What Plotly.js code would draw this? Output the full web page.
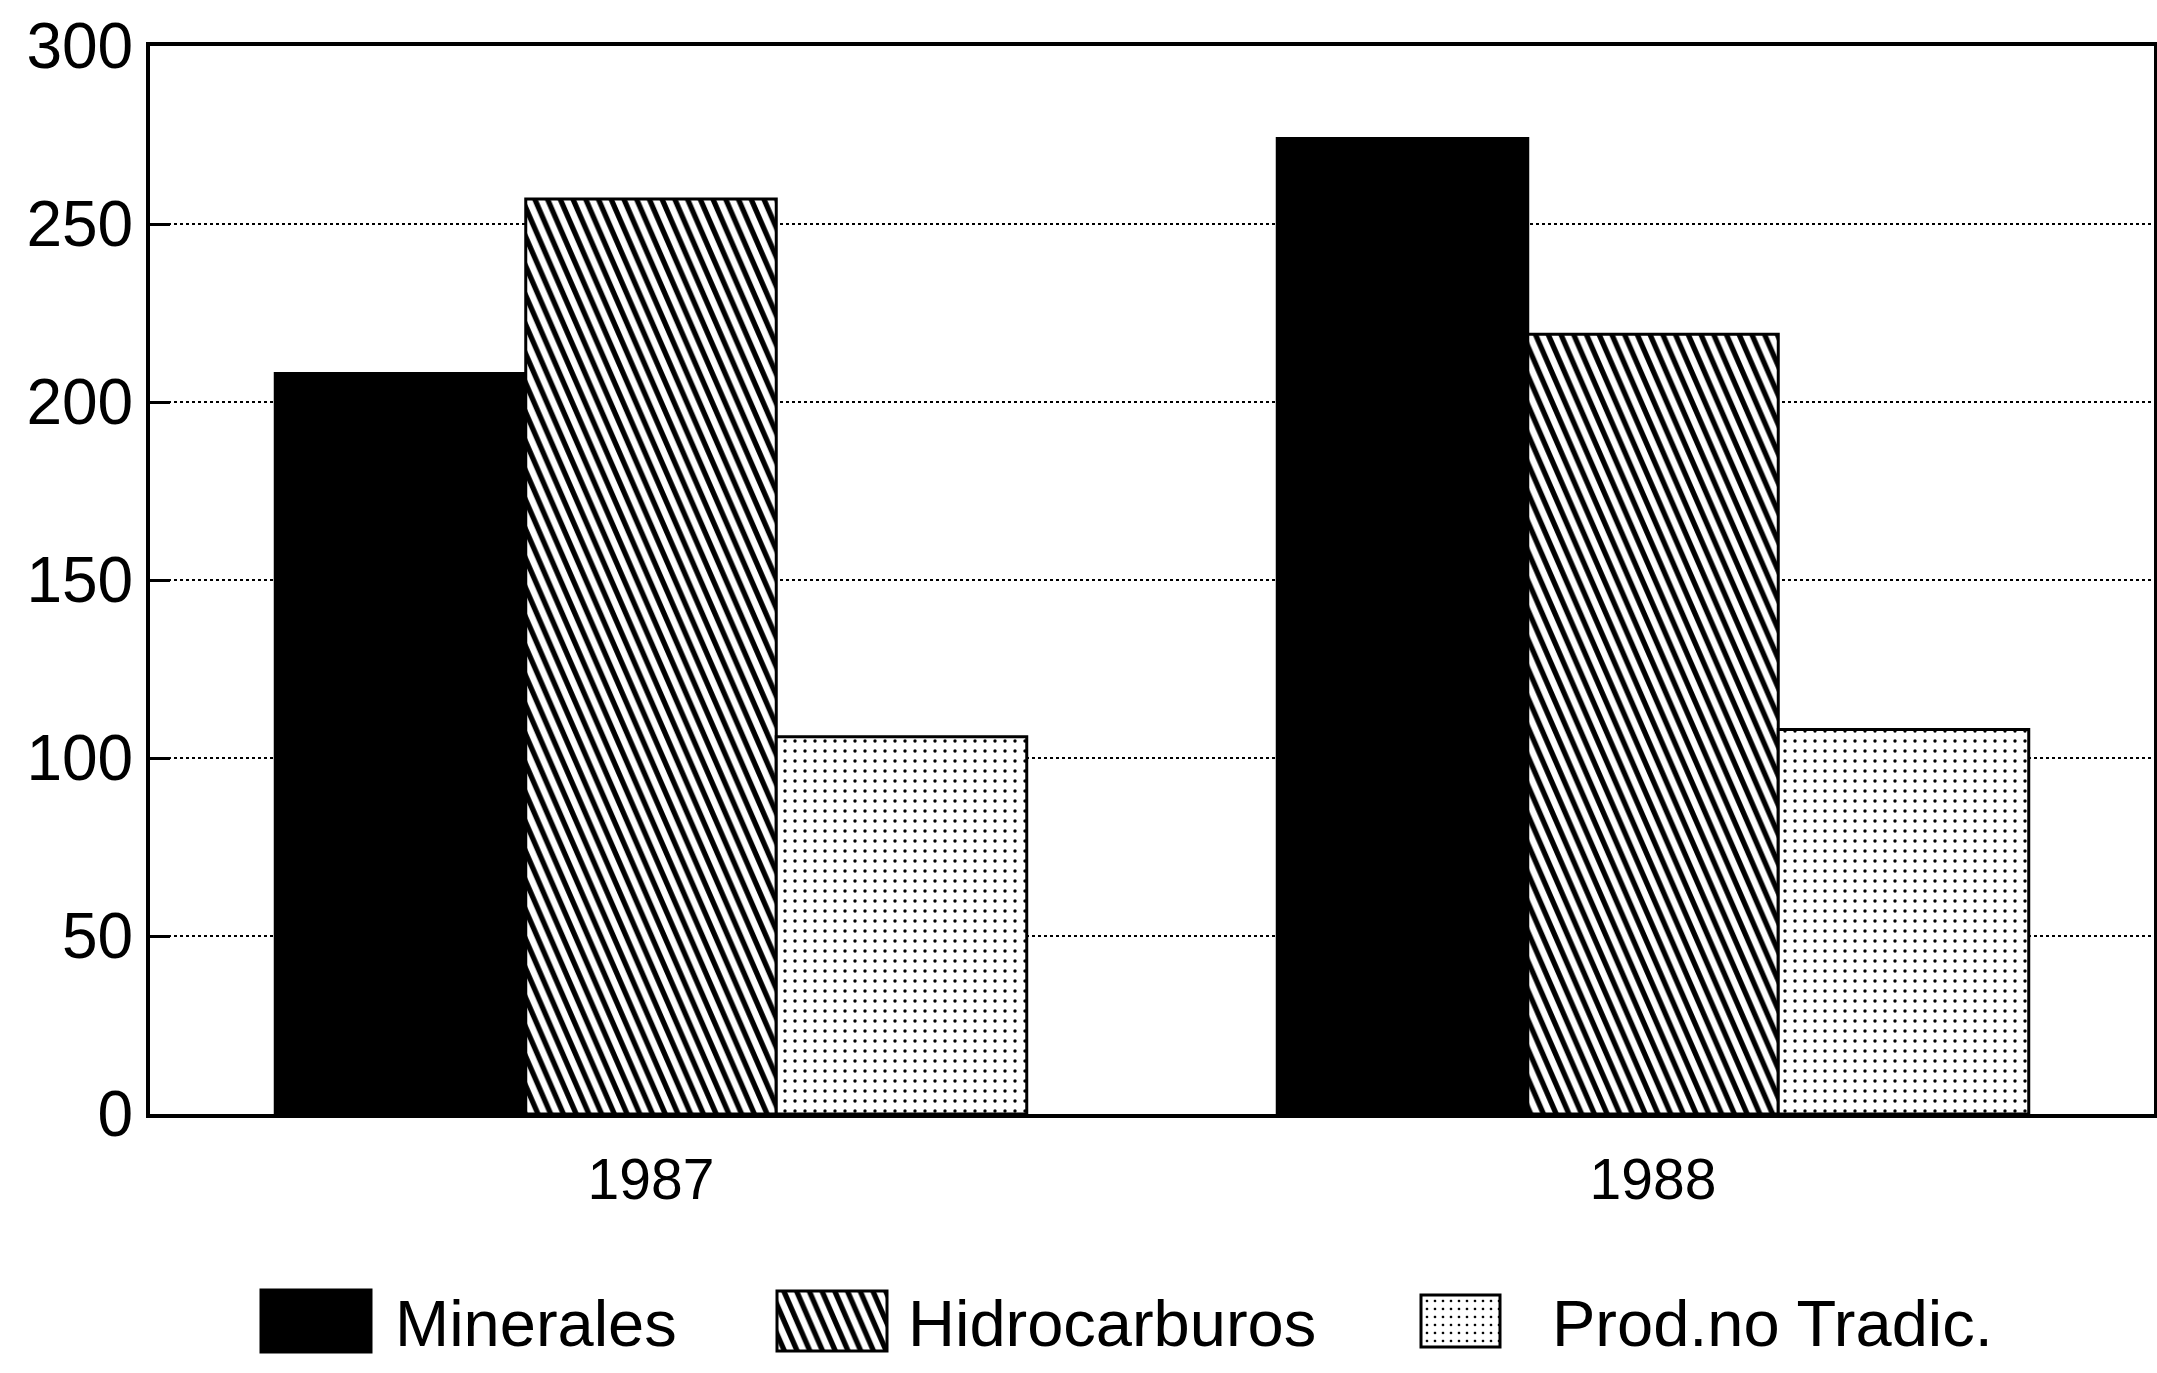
<!DOCTYPE html>
<html>
<head>
<meta charset="utf-8">
<script src="https://cdn.plot.ly/plotly-3.0.1.min.js"></script>
<style>
  html, body { margin: 0; padding: 0; background: #ffffff; }
  #chart { width: 2157px; height: 1373px; }
</style>
</head>
<body>
<div id="chart"></div>
<script>
// ---- data ----
var years = ['1987', '1988'];
var minerales = [208, 274];
var hidrocarburos = [257, 219];
var prodNoTradic = [106, 108];
var seriesNames = ['Minerales', 'Hidrocarburos', 'Prod.no Tradic.'];
var yTickVals = [0, 50, 100, 150, 200, 250, 300];
var yTickText = ['0', '50', '100', '150', '200', '250', '300'];

var FONT = 'Liberation Sans, Arial, sans-serif';

var data = [
  {
    type: 'bar', name: seriesNames[0], x: years, y: minerales,
    marker: { color: '#000000', line: { color: '#000000', width: 3 } }
  },
  {
    type: 'bar', name: seriesNames[1], x: years, y: hidrocarburos,
    marker: {
      color: '#ffffff',
      line: { color: '#000000', width: 3 },
      pattern: { shape: '\\', fgcolor: '#000000', fgopacity: 1, bgcolor: '#ffffff', size: 9, solidity: 0.45, fillmode: 'overlay' }
    }
  },
  {
    type: 'bar', name: seriesNames[2], x: years, y: prodNoTradic,
    marker: {
      color: '#ffffff',
      line: { color: '#000000', width: 3 },
      pattern: { shape: '.', fgcolor: '#000000', fgopacity: 1, bgcolor: '#ffffff', size: 10, solidity: 0.09, fillmode: 'overlay' }
    }
  }
];

var layout = {
  width: 2157, height: 1373,
  paper_bgcolor: '#ffffff', plot_bgcolor: '#ffffff',
  margin: { l: 150, r: 3, t: 46, b: 259 },
  barmode: 'group', bargap: 0.25, bargroupgap: 0,
  font: { family: FONT, color: '#000000', size: 58 },
  xaxis: {
    type: 'category', range: [-0.5, 1.5],
    showline: true, linecolor: '#000000', linewidth: 4, mirror: true,
    showgrid: false, ticks: '', zeroline: false,
    tickfont: { family: FONT, size: 57, color: '#000000' },
    ticklabelstandoff: 13
  },
  yaxis: {
    range: [0, 300], tickvals: yTickVals, ticktext: yTickText,
    showline: true, linecolor: '#000000', linewidth: 4, mirror: true,
    showgrid: true, gridcolor: '#000000', gridwidth: 1.5, griddash: 'dot',
    ticks: 'inside', ticklen: 20, tickwidth: 3, tickcolor: '#000000',
    zeroline: false,
    tickfont: { family: FONT, size: 64, color: '#000000' },
    ticklabelstandoff: 0
  },
  showlegend: true,
  legend: {
    orientation: 'h', x: 0.045, xanchor: 'left', y: -0.194, yanchor: 'middle',
    font: { family: FONT, size: 65, color: '#000000' },
    itemwidth: 136, bgcolor: 'rgba(0,0,0,0)', traceorder: 'normal',
    itemclick: false, itemdoubleclick: false
  }
};

// legend placement in the original (page pixels)
var legendTextLeft = [395, 908, 1552];
var legendSwatchLeft = [261, 777, 1421];
var legendSwatchRight = [371, 887, 1500];
var legendSwatchHeight = [62, 60, 52];

Plotly.newPlot('chart', data, layout, { staticPlot: true, displayModeBar: false }).then(function (gd) {
  var chartRect = gd.getBoundingClientRect();
  // avoid clipping when items are spread out
  gd.querySelectorAll('.legend, .legend .scrollbox, .legend g').forEach(function (el) {
    if (el.hasAttribute('clip-path')) el.removeAttribute('clip-path');
  });
  var items = gd.querySelectorAll('.legend .traces');
  items.forEach(function (g, i) {
    var txt = g.querySelector('text.legendtext');
    var r = txt.getBoundingClientRect();
    var dx = (legendTextLeft[i] + chartRect.left) - r.left;
    var t = g.getAttribute('transform') || 'translate(0,0)';
    var m = /translate\(\s*([-\d.e]+)[ ,]+([-\d.e]+)\s*\)/.exec(t);
    var tx = m ? parseFloat(m[1]) : 0, ty = m ? parseFloat(m[2]) : 0;
    g.setAttribute('transform', 'translate(' + (tx + dx) + ',' + ty + ')');
    var p = g.querySelector('.legendpoints path');
    if (p) {
      var pr = p.getBoundingClientRect();
      var cx = (pr.left + pr.right) / 2 - chartRect.left;
      var L = legendSwatchLeft[i] - cx, R = legendSwatchRight[i] - cx;
      var h = legendSwatchHeight[i] / 2;
      p.setAttribute('d', 'M' + R + ',' + h + 'H' + L + 'V' + (-h) + 'H' + R + 'Z');
      p.style.strokeWidth = '3px';
      p.style.stroke = '#000000';
    }
  });
  // steeper hatch lines as in the original print
  document.querySelectorAll('pattern').forEach(function (pt) {
    if (pt.querySelector('path')) {
      pt.setAttribute('patternTransform', 'scale(1,2.3)');
    }
  });
});
</script>
</body>
</html>
